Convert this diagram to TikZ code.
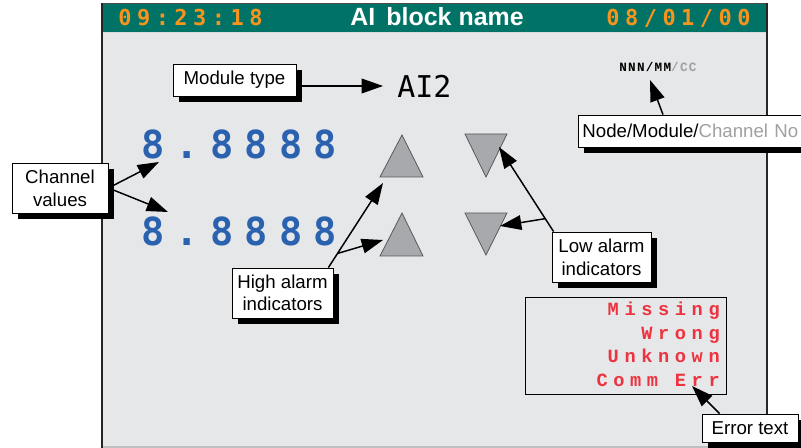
\documentclass[tikz,border=0pt]{standalone}
\usepackage{fontspec}
\setmainfont{Liberation Sans}
\newfontfamily\monofont{DejaVu Sans Mono}
\newfontfamily\hdrmono[LetterSpace=25]{DejaVu Sans Mono}
\newfontfamily\digitfont[LetterSpace=29]{DejaVu Sans Mono}
\newfontfamily\errfont[LetterSpace=30]{Liberation Mono}
\newfontfamily\smallmono[LetterSpace=10]{Liberation Mono}
\usetikzlibrary{arrows.meta,shadows,calc}
\definecolor{panelbg}{HTML}{E6E7E8}
\definecolor{hdrteal}{HTML}{007266}
\definecolor{hdrorange}{HTML}{F7941D}
\definecolor{digitblue}{HTML}{2B62B0}
\definecolor{errred}{HTML}{EE3340}
\definecolor{trigray}{HTML}{A7A9AC}
\definecolor{tridark}{HTML}{58595B}
\definecolor{softgray}{HTML}{A0A0A0}
\begin{document}
\begin{tikzpicture}[x=0.75pt,y=-0.75pt,
  callout/.style={draw=black, line width=0.6pt, fill=white, align=center, inner sep=0pt,
    font=\fontsize{14}{17}\selectfont,
    drop shadow={shadow xshift=4.5pt, shadow yshift=-4.5pt, fill=black, opacity=1}},
  conn/.style={line width=1.1pt, -{Triangle[length=16pt,width=11pt]}},
  tri/.style={fill=trigray, draw=tridark, line width=0.6pt},
  errline/.style={anchor=base east, inner sep=0pt, text=errred, font=\errfont\bfseries\fontsize{14}{14}\selectfont}]
\useasboundingbox (0,0) rectangle (801,448);
\clip (0,0) rectangle (801,448);
% panel
\fill[panelbg] (102,3) rectangle (767,447);
\fill[hdrteal] (102,3) rectangle (767,32);
\draw[white!70!gray, line width=0.6pt] (102,32.5) -- (767,32.5);
\draw[black!25, line width=1pt] (102,447) -- (767,447);
\draw[black!70, line width=0.6pt] (102,3) -- (767,3);
\draw[black!85, line width=2pt] (102,3) -- (102,448);
\draw[black!85, line width=1.8pt] (767,3) -- (767,448);
% header
\node[anchor=base west, inner sep=0pt, text=hdrorange, font=\hdrmono\bfseries\fontsize{16.5}{16.5}\selectfont] (time) at (118,26) {09:23:18};
\node[anchor=base, inner sep=0pt, text=white, font=\bfseries\fontsize{18.7}{18.7}\selectfont] (title) at (437,26) {AI\hspace{0.45em}block name};
\node[anchor=base west, inner sep=0pt, text=hdrorange, font=\hdrmono\bfseries\fontsize{16.5}{16.5}\selectfont] (date) at (606,26) {08/01/00};
% values
\node[anchor=base west, inner sep=0pt, text=digitblue, font=\digitfont\bfseries\fontsize{29}{29}\selectfont] (val1) at (141,159) {8.8888};
\node[anchor=base west, inner sep=0pt, text=digitblue, font=\digitfont\bfseries\fontsize{29}{29}\selectfont] (val2) at (141,246) {8.8888};
\node[anchor=base west, inner sep=0pt, font=\monofont\fontsize{22.5}{22.5}\selectfont] (mtype) at (397,98) {AI2};
\node[anchor=base west, inner sep=0pt, font=\smallmono\bfseries\fontsize{9.5}{9.5}\selectfont] (addr) at (619,72) {NNN/MM\textcolor{softgray}{/CC}};
% alarm triangles
\path[tri] (380,177) -- (423,177) -- (402,135) -- cycle;
\path[tri] (380,256) -- (423,256) -- (402,213) -- cycle;
\path[tri] (465,134) -- (507,134) -- (486,177) -- cycle;
\path[tri] (465,213) -- (507,213) -- (486,255) -- cycle;
% error box
\node[draw=black, line width=0.6pt, fill=panelbg, minimum width=150.75pt, minimum height=72.75pt, inner sep=0pt] (errbox) at (625.5,345.5) {};
\node[errline] (e1) at (720,316) {Missing};
\node[errline] (e2) at (720,340) {Wrong};
\node[errline] (e3) at (720,363) {Unknown};
\node[errline] (e4) at (720,387) {Comm Err};
% callouts
\node[callout, minimum width=72pt, minimum height=37.5pt] (chv) at (60,188) {Channel\\values};
\node[callout, minimum width=92.25pt, minimum height=24pt] (modt) at (234.5,80) {Module type};
\node[callout, anchor=west, text width=200pt, align=left, inner xsep=3pt, minimum height=24pt] (nmc) at (578,131) {Node/Module/\textcolor{softgray}{Channel No}};
\node[callout, minimum width=75.75pt, minimum height=37.5pt] (hal) at (282.5,293) {High alarm\\indicators};
\node[callout, minimum width=74.25pt, minimum height=37.5pt] (lal) at (601.5,257) {Low alarm\\indicators};
\node[callout, minimum width=72pt, minimum height=21pt] (errl) at (750,428) {Error text};
% connector coordinates
\coordinate (tipv1) at (159,162);
\coordinate (tipv2) at (168,212);
\coordinate (mstart) at ([yshift=-4.5pt]modt.east);
\coordinate (mtip) at (383,86);
\coordinate (hstart) at ([xshift=-3.75pt]hal.north east);
\coordinate (htip1) at (383,183);
\coordinate (hsplit) at ($(hstart)!0.167!(htip1)$);
\coordinate (htip2) at (383,240);
\coordinate (lstart) at ([xshift=1.5pt]lal.north west);
\coordinate (ltip1) at (499,147);
\coordinate (lsplit) at ($(lstart)!0.153!(ltip1)$);
\coordinate (ltip2) at (500,226);
\coordinate (nstart) at ([xshift=63.75pt]nmc.north west);
\coordinate (ntip) at (650,80);
\coordinate (estart) at ([xshift=13.5pt]errl.north west);
\coordinate (etip) at (692,386);
% connectors
\draw[conn] (chv.east) -- (tipv1);
\draw[conn] (chv.east) -- (tipv2);
\draw[conn] (mstart) -- (mtip);
\draw[conn] (hstart) -- (htip1);
\draw[conn] (hsplit) -- (htip2);
\draw[conn] (lstart) -- (ltip1);
\draw[conn] (lsplit) -- (ltip2);
\draw[conn] (nstart) -- (ntip);
\draw[conn] (estart) -- (etip);
\end{tikzpicture}
\end{document}
